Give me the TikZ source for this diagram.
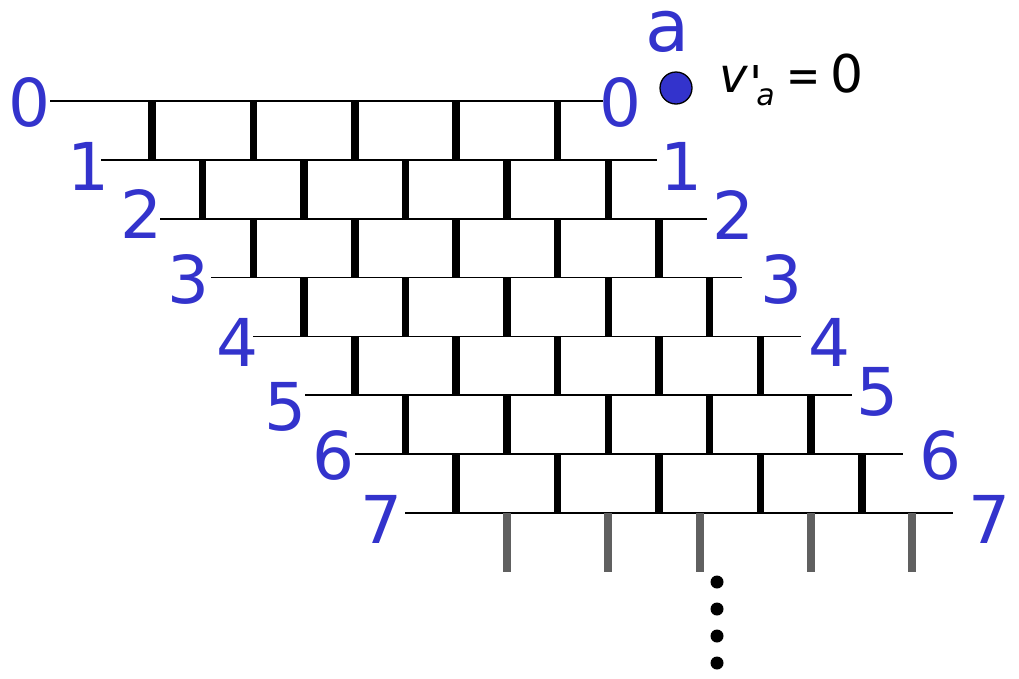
\documentclass[tikz,border=0pt]{standalone}
\usepackage{fontspec}
\setmainfont{DejaVu Sans}
\definecolor{lblblue}{RGB}{51,51,204}
\definecolor{stubgray}{RGB}{96,96,96}
\begin{document}
\begin{tikzpicture}[x=1pt,y=-1pt,
  hline/.style={line width=1.8pt, black},
  rung/.style={line width=7.5pt, black},
  stub/.style={line width=7.5pt, stubgray},
  numlbl/.style={text=lblblue, font=\fontsize{66}{66}\selectfont, inner sep=0pt},
  dotmark/.style={fill=black},
]
\useasboundingbox (0,0) rectangle (1019,678);

% horizontal lines of the rows
\foreach \i/\l/\r in {0/50/603,1/101/657,2/160/707,3/211/742,4/253/801,5/305/852,6/355/903,7/405/953} {
  \pgfmathsetmacro\yy{101+58.86*\i}
  \coordinate (L\i) at (\l,\yy);
  \coordinate (R\i) at (\r,\yy);
  \draw[hline] (L\i) -- (R\i);
}

% vertical black rungs (brick joints)
\foreach \i in {0,...,6} {
  \foreach \k in {0,...,4} {
    \pgfmathsetmacro\xx{152+50.7*\i+101.4*\k}
    \pgfmathsetmacro\ya{101+58.86*\i}
    \pgfmathsetmacro\yb{101+58.86*(\i+1)}
    \draw[rung] (\xx,\ya) -- (\xx,\yb);
  }
}

% grey stubs below row 7
\foreach \xx in {507,608,700,811,912} {
  \draw[stub] (\xx,513) -- (\xx,572);
}

% left labels
\foreach \i/\xx/\yy in {0/29/102,1/88/166,2/141/214,3/188/279,4/237/342,5/285/407,6/333/455,7/381/519} {
  \node[numlbl] (ll\i) at (\xx,\yy) {\i};
}
% right labels
\foreach \i/\xx/\yy in {0/620/102,1/681/166,2/733/215,3/781/279,4/829/342,5/877/392,6/940/455,7/989/519} {
  \node[numlbl] (rl\i) at (\xx,\yy) {\i};
}

% top label and dot
\node[text=lblblue, font=\fontsize{72}{72}\selectfont, inner sep=0pt, anchor=base] (atop) at (668,51) {a};
\node[circle, fill=lblblue, draw=black, line width=1.3pt, minimum size=32pt, inner sep=0pt] (adot) at (676,88) {};

% equation
\node[anchor=base west, inner sep=0pt, font=\fontsize{48}{48}\selectfont] (eq) at (719,92)
  {\textit{v}\kern1pt\raisebox{-8pt}{\textquotesingle}\kern-6pt\raisebox{-13pt}{\fontsize{30}{30}\selectfont\textit{a}}\kern12pt\scalebox{0.85}[1]{=}\kern10pt\fontsize{52}{52}\selectfont 0};

% vertical dots
\foreach \j/\yy in {1/582,2/609,3/636,4/663} {
  \fill[dotmark] (717,\yy) circle [radius=6.5];
}
\end{tikzpicture}
\end{document}
